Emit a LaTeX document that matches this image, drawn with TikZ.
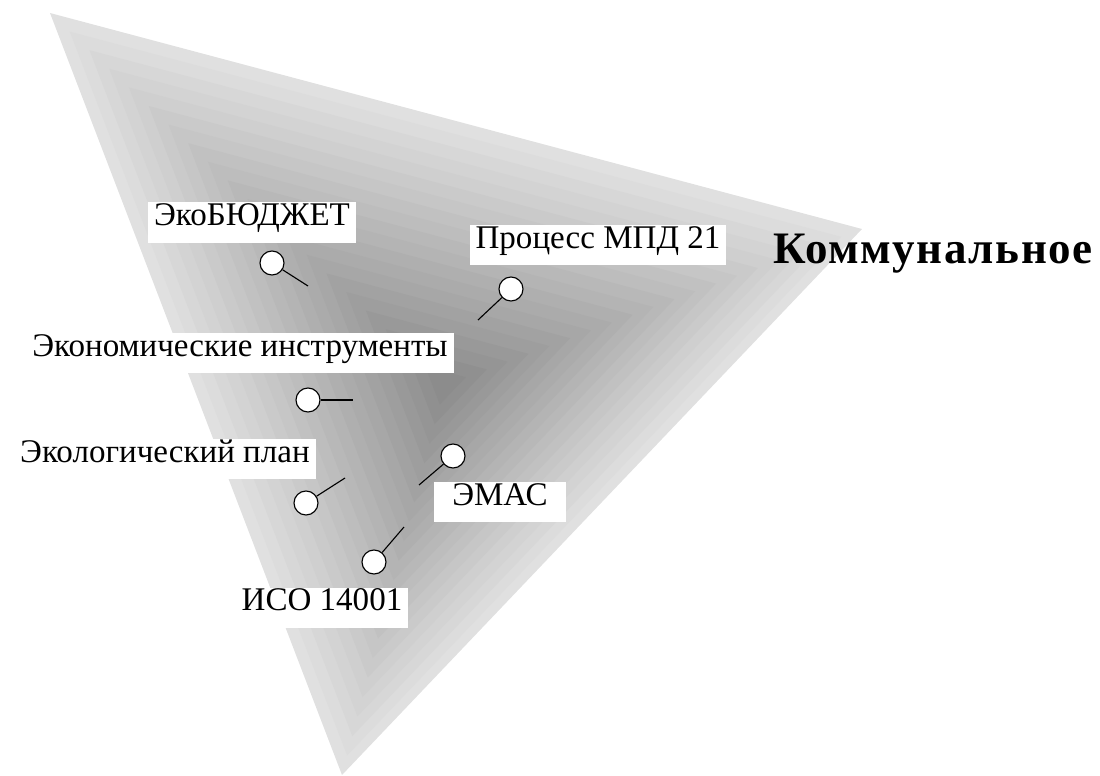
\documentclass[tikz,border=0pt]{standalone}
\usepackage{fontspec}
\setmainfont{Liberation Serif}
\usetikzlibrary{calc}
\begin{document}
\begin{tikzpicture}[x=0.025cm,y=-0.025cm,
  lbl/.style={fill=white,inner xsep=0.15cm,inner ysep=0pt,minimum height=1cm,
    text height=0.68em,text depth=0.2em,font=\fontsize{23.5}{26}\selectfont},
  pin/.style={circle,draw,fill=white,line width=0.8pt,minimum size=0.6cm,inner sep=0pt},
  stub/.style={line width=0.8pt}]
\useasboundingbox (0,0) rectangle (1100,776);
\coordinate (A) at (50,13);
\coordinate (B) at (862,229);
\coordinate (D) at (342,775);
\coordinate (C) at (445,385);
\foreach \k in {0,...,19}{
  \pgfmathsetmacro\s{1-\k/20}
  \pgfmathsetmacro\pc{12+\k*1.75}
  \fill[black!\pc] ($(C)!\s!(A)$) -- ($(C)!\s!(B)$) -- ($(C)!\s!(D)$) -- cycle;
}
% labels
\node[lbl] (l1) at (252,222.5) {ЭкоБЮДЖЕТ};
\node[lbl] (l2) at (598,245) {Процесс МПД 21};
\node[lbl] (l3) at (240,353) {Экономические инструменты};
\node[lbl] (l4) at (165,459) {Экологический план};
\node[lbl,inner xsep=0.45cm] (l5) at (500,502) {ЭМАС};
\node[lbl] (l6) at (322,607.5) {ИСО 14001};
\node[anchor=base west,inner sep=0pt,font=\fontsize{32}{36}\selectfont\bfseries\addfontfeatures{LetterSpace=3.5}] (k) at (773,263) {Коммунальное};
% pins
\node[pin] (c1) at (272,263) {};
\coordinate (e1) at (308,286);
\node[pin] (c2) at (511,289) {};
\coordinate (e2) at (478,320);
\node[pin] (c3) at (308,400) {};
\coordinate (e3) at (353,400);
\node[pin] (c4) at (306,503) {};
\coordinate (e4) at (345,478);
\node[pin] (c5) at (453,456) {};
\coordinate (e5) at (419,485);
\node[pin] (c6) at (374,562) {};
\coordinate (e6) at (404,527);
\draw[stub] (c1) -- (e1);
\draw[stub] (c2) -- (e2);
\draw[stub] (c3) -- (e3);
\draw[stub] (c4) -- (e4);
\draw[stub] (c5) -- (e5);
\draw[stub] (c6) -- (e6);
\end{tikzpicture}
\end{document}
